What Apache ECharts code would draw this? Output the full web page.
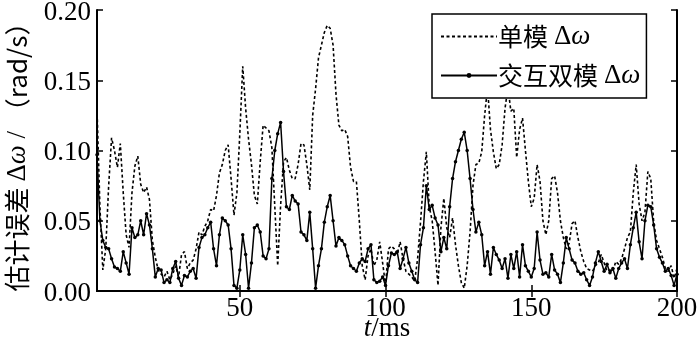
<!DOCTYPE html>
<html lang="zh">
<head>
    <meta charset="UTF-8">
    <title>估计误差</title>
    <style>
        * {
            margin: 0;
            padding: 0;
            box-sizing: border-box;
        }

        .chart {
            width: 700px;
            height: 345px;
            background: #fff;
        }
    </style>
</head>
<body>
<div class="chart" id="chart"></div>

<script src="https://cdn.jsdelivr.net/npm/echarts@6.0.0/dist/echarts.min.js"></script>
<script>
    // t = 1..200 ms
    const tValues = Array.from({ length: 200 }, (_, i) => i + 1)
    const xTicks = [50, 100, 150, 200]

    // 单模 Δω
    const singleModel = [
        0.130, 0.060, 0.015, 0.030, 0.075, 0.109, 0.100, 0.088, 0.105, 0.070,
        0.040, 0.031, 0.070, 0.089, 0.096, 0.076, 0.070, 0.074, 0.065, 0.036,
        0.024, 0.015, 0.012, 0.010, 0.014, 0.008, 0.012, 0.018, 0.010, 0.026,
        0.028, 0.016, 0.020, 0.022, 0.030, 0.042, 0.040, 0.046, 0.050, 0.058,
        0.057, 0.068, 0.084, 0.090, 0.100, 0.104, 0.080, 0.054, 0.070, 0.112,
        0.160, 0.130, 0.108, 0.090, 0.068, 0.062, 0.092, 0.118, 0.116, 0.114,
        0.102, 0.060, 0.018, 0.061, 0.092, 0.095, 0.086, 0.080, 0.080, 0.090,
        0.105, 0.104, 0.090, 0.072, 0.125, 0.144, 0.166, 0.175, 0.184, 0.189,
        0.187, 0.175, 0.140, 0.118, 0.114, 0.115, 0.110, 0.088, 0.078, 0.078,
        0.050, 0.018, 0.008, 0.025, 0.030, 0.018, 0.022, 0.035, 0.020, 0.004,
        0.030, 0.032, 0.030, 0.026, 0.035, 0.023, 0.014, 0.012, 0.010, 0.007,
        0.023, 0.049, 0.078, 0.099, 0.060, 0.050, 0.028, 0.004, 0.045, 0.066,
        0.045, 0.038, 0.052, 0.033, 0.018, 0.006, 0.002, 0.018, 0.042, 0.075,
        0.090, 0.091, 0.099, 0.125, 0.145, 0.115, 0.099, 0.087, 0.090, 0.104,
        0.130, 0.145, 0.128, 0.130, 0.095, 0.115, 0.123, 0.100, 0.078, 0.060,
        0.066, 0.090, 0.078, 0.050, 0.040, 0.050, 0.080, 0.082, 0.070, 0.050,
        0.038, 0.030, 0.034, 0.048, 0.050, 0.038, 0.028, 0.021, 0.016, 0.015,
        0.014, 0.018, 0.020, 0.026, 0.020, 0.014, 0.015, 0.014, 0.021, 0.019,
        0.023, 0.030, 0.038, 0.042, 0.070, 0.090, 0.062, 0.050, 0.056, 0.085,
        0.080, 0.049, 0.036, 0.030, 0.024, 0.016, 0.014, 0.018, 0.009, 0.016
    ]

    // 交互双模 Δω
    const dualModel = [
        0.097, 0.050, 0.036, 0.031, 0.030, 0.023, 0.017, 0.016, 0.014, 0.028,
        0.020, 0.012, 0.045, 0.038, 0.040, 0.050, 0.040, 0.055, 0.047, 0.030,
        0.010, 0.016, 0.015, 0.006, 0.008, 0.006, 0.016, 0.021, 0.009, 0.004,
        0.011, 0.010, 0.014, 0.016, 0.009, 0.031, 0.038, 0.040, 0.045, 0.049,
        0.030, 0.018, 0.040, 0.052, 0.050, 0.047, 0.030, 0.004, 0.002, 0.015,
        0.040, 0.026, 0.002, 0.020, 0.045, 0.047, 0.042, 0.025, 0.023, 0.030,
        0.080, 0.100, 0.112, 0.120, 0.085, 0.060, 0.058, 0.068, 0.064, 0.062,
        0.042, 0.040, 0.036, 0.056, 0.030, 0.002, 0.018, 0.030, 0.049, 0.060,
        0.068, 0.050, 0.032, 0.038, 0.036, 0.033, 0.025, 0.018, 0.016, 0.014,
        0.020, 0.023, 0.021, 0.030, 0.033, 0.008, 0.006, 0.007, 0.010, 0.004,
        0.018, 0.027, 0.026, 0.028, 0.016, 0.023, 0.031, 0.020, 0.014, 0.008,
        0.006, 0.033, 0.045, 0.075, 0.058, 0.061, 0.052, 0.047, 0.028, 0.038,
        0.030, 0.060, 0.080, 0.092, 0.100, 0.108, 0.113, 0.100, 0.080, 0.058,
        0.042, 0.049, 0.040, 0.018, 0.028, 0.012, 0.031, 0.026, 0.022, 0.016,
        0.023, 0.009, 0.026, 0.016, 0.028, 0.010, 0.033, 0.018, 0.014, 0.010,
        0.016, 0.042, 0.022, 0.012, 0.013, 0.010, 0.026, 0.015, 0.012, 0.006,
        0.020, 0.038, 0.030, 0.022, 0.020, 0.014, 0.012, 0.013, 0.008, 0.004,
        0.010, 0.020, 0.028, 0.021, 0.014, 0.019, 0.013, 0.016, 0.009, 0.016,
        0.020, 0.023, 0.016, 0.033, 0.045, 0.056, 0.035, 0.023, 0.050, 0.061,
        0.060, 0.047, 0.030, 0.024, 0.020, 0.014, 0.016, 0.011, 0.004, 0.012
    ]

    const serif = '"Liberation Serif", "Times New Roman", serif'
    const cjk = '"Noto Sans CJK SC", sans-serif'

    const myChart = echarts.init(document.getElementById('chart'), null, { renderer: 'canvas' })

    const pairs = arr => tValues.map((t, i) => [t, arr[i]])

    const legendRich = {
        cn: { fontFamily: cjk, fontSize: 25, color: '#000' },
        d: { fontFamily: serif, fontSize: 27, color: '#000', padding: [0, 0, 0, 6] },
        w: { fontFamily: serif, fontSize: 27, fontStyle: 'italic', color: '#000' }
    }

    const option = {
        animation: false,
        backgroundColor: '#fff',
        // v6 会自动把标签挤进容器, 这里关掉, 按像素摆
        grid: { left: 97, right: 23, top: 10, bottom: 54, outerBoundsMode: 'none' },
        legend: {
            left: 432,
            top: 14,
            orient: 'vertical',
            backgroundColor: '#fff',
            borderColor: '#000',
            borderWidth: 1.5,
            padding: [9, 6, 9, 8],
            itemWidth: 56,
            itemHeight: 6,
            itemGap: 12,
            textStyle: { rich: legendRich, padding: [0, 0, 0, -4] },
            formatter: name => name === '单模'
                ? '{cn|单模}{d|Δ}{w|ω}'
                : '{cn|交互双模}{d|Δ}{w|ω}',
            data: [
                { name: '单模', itemStyle: { color: 'rgba(0,0,0,0)', borderWidth: 0 } },
                { name: '交互双模' }
            ]
        },
        xAxis: [
            {
                type: 'value',
                min: 1,
                max: 200,
                name: '{i|t}/ms',
                nameLocation: 'middle',
                nameGap: 24,
                nameMoveOverlap: false,
                nameTextStyle: {
                    fontFamily: serif,
                    fontSize: 27,
                    color: '#000',
                    rich: { i: { fontFamily: serif, fontSize: 27, fontStyle: 'italic', color: '#000' } }
                },
                axisLine: { lineStyle: { color: '#000', width: 2 } },
                axisTick: { inside: true, length: 6, customValues: xTicks, lineStyle: { color: '#000', width: 1.5 } },
                axisLabel: { customValues: xTicks, fontFamily: serif, fontSize: 27, color: '#000', margin: 4 },
                splitLine: { show: false }
            },
            {
                type: 'value',
                min: 1,
                max: 200,
                position: 'top',
                axisLine: { lineStyle: { color: '#000', width: 2 } },
                axisTick: { inside: true, length: 6, customValues: xTicks, lineStyle: { color: '#000', width: 1.5 } },
                axisLabel: { show: false },
                splitLine: { show: false }
            }
        ],
        yAxis: [
            {
                type: 'value',
                min: 0,
                max: 0.2,
                interval: 0.05,
                name: '{cn|估计误差 }{d|Δ}{w|ω}{d| / }{cn|（rad/s）}',
                nameLocation: 'middle',
                nameRotate: 90,
                nameGap: 66,
                nameMoveOverlap: false,
                nameTextStyle: {
                    rich: {
                        cn: { fontFamily: cjk, fontSize: 26, color: '#000' },
                        d: { fontFamily: serif, fontSize: 27, color: '#000' },
                        w: { fontFamily: serif, fontSize: 27, fontStyle: 'italic', color: '#000' }
                    }
                },
                axisLine: { show: true, lineStyle: { color: '#000', width: 2 } },
                axisTick: { show: true, inside: true, length: 6, lineStyle: { color: '#000', width: 1.5 } },
                axisLabel: {
                    fontFamily: serif,
                    fontSize: 27,
                    color: '#000',
                    margin: 6,
                    verticalAlign: 'top',
                    lineHeight: 5,
                    formatter: v => v.toFixed(2)
                },
                splitLine: { show: false }
            },
            {
                type: 'value',
                min: 0,
                max: 0.2,
                interval: 0.05,
                position: 'right',
                axisLine: { show: true, lineStyle: { color: '#000', width: 2 } },
                axisTick: { show: true, inside: true, length: 6, lineStyle: { color: '#000', width: 1.5 } },
                axisLabel: { show: false },
                splitLine: { show: false }
            }
        ],
        series: [
            {
                name: '单模',
                type: 'line',
                data: pairs(singleModel),
                symbol: 'none',
                lineStyle: { color: '#000', width: 1.6, type: [3, 2.5] },
                itemStyle: { color: '#000' },
                z: 2
            },
            {
                name: '交互双模',
                type: 'line',
                data: pairs(dualModel),
                symbol: 'circle',
                symbolSize: 3.5,
                showSymbol: true,
                lineStyle: { color: '#000', width: 1.5 },
                itemStyle: { color: '#000' },
                z: 3
            }
        ]
    }

    myChart.setOption(option)
</script>
</body>
</html>
